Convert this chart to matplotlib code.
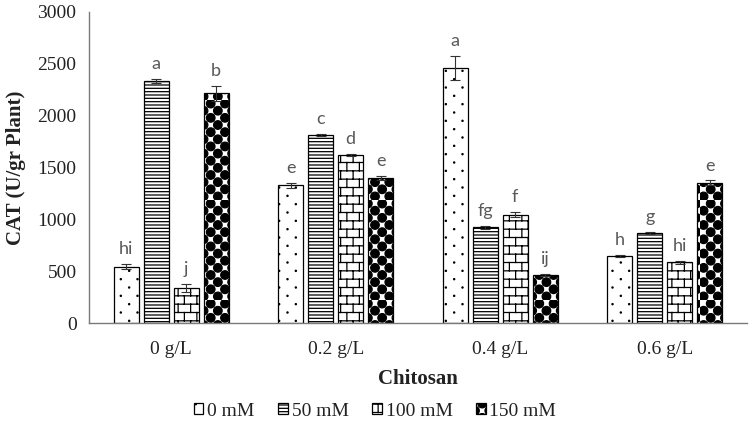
import warnings
warnings.filterwarnings('ignore')
import numpy as np
import matplotlib
matplotlib.use('Agg')
import matplotlib.pyplot as plt
import matplotlib.hatch as mhatch
from matplotlib.path import Path

# ---------------- data ----------------
groups = ['0 g/L', '0.2 g/L', '0.4 g/L', '0.6 g/L']
series = ['0 mM', '50 mM', '100 mM', '150 mM']
cat_0mM = [545, 1330, 2460, 650]
cat_50mM = [2335, 1815, 925, 870]
cat_100mM = [340, 1625, 1045, 585]
cat_150mM = [2215, 1400, 465, 1355]
err_0mM = [25, 25, 120, 10]
err_50mM = [20, 8, 15, 10]
err_100mM = [40, 10, 25, 15]
err_150mM = [75, 20, 10, 20]
letters_0mM = ['hi', 'e', 'a', 'h']
letters_50mM = ['a', 'c', 'fg', 'g']
letters_100mM = ['j', 'd', 'f', 'hi']
letters_150mM = ['b', 'e', 'ij', 'e']
yticks = [0, 500, 1000, 1500, 2000, 2500, 3000]
xlabel = 'Chitosan'
ylabel = 'CAT (U/gr Plant)'


# ---------------- custom hatch patterns ----------------
class DotHatch(mhatch.HatchPatternBase):
    rows, cols = 12, 6

    def __init__(self, hatch, density):
        self.on = 'd' in hatch
        self.circ = Path.unit_circle()
        self.num_vertices = self.rows * self.cols * len(self.circ.vertices) if self.on else 0

    def set_vertices_and_codes(self, vertices, codes):
        v, c = self.circ.vertices, self.circ.codes
        n = len(v)
        k = 0
        for i in range(self.rows):
            y = (i + 0.5) / self.rows
            off = 0.5 / self.cols if i % 2 else 0.0
            for j in range(self.cols):
                x = (j + 0.25) / self.cols + off
                vertices[k:k + n] = v * 0.006 + (x, y)
                codes[k:k + n] = c
                k += n


class BallHatch(mhatch.HatchPatternBase):
    n = 14

    def __init__(self, hatch, density):
        self.on = 'k' in hatch
        self.circ = Path.unit_circle()
        cnt = (self.n * self.n) // 2
        self.num_vertices = cnt * len(self.circ.vertices) if self.on else 0

    def set_vertices_and_codes(self, vertices, codes):
        v, c = self.circ.vertices, self.circ.codes
        m = len(v)
        k = 0
        r = 0.6 / self.n
        for i in range(self.n):
            for j in range(self.n):
                if (i + j) % 2:
                    continue
                x = (j + 0.5) / self.n
                y = (i + 0.5) / self.n
                vertices[k:k + m] = v * r + (x, y)
                codes[k:k + m] = c
                k += m


class BrickHatch(mhatch.HatchPatternBase):
    rows, cols = 12, 8

    def __init__(self, hatch, density):
        self.on = 'b' in hatch
        nseg = self.rows + self.rows * self.cols + self.cols
        self.num_vertices = 2 * nseg if self.on else 0

    def set_vertices_and_codes(self, vertices, codes):
        R, C = self.rows, self.cols
        segs = []
        for i in range(R):
            y = (i + 0.5) / R
            segs.append(((0.0, y), (1.0, y)))
        for i in range(R):
            y0 = (i + 0.5) / R
            y1 = min((i + 1.5) / R, 1.0)
            for j in range(C):
                x = (j + 0.25 + 0.5 * (i % 2)) / C
                segs.append(((x, y0), (x, y1)))
        for j in range(C):
            x = (j + 0.25 + 0.5 * ((R - 1) % 2)) / C
            segs.append(((x, 0.0), (x, 0.5 / R)))
        for k, (a, b) in enumerate(segs):
            vertices[2 * k] = a
            vertices[2 * k + 1] = b
            codes[2 * k] = Path.MOVETO
            codes[2 * k + 1] = Path.LINETO


mhatch._hatch_types.extend([DotHatch, BallHatch, BrickHatch])

plt.rcParams['hatch.linewidth'] = 0.9
plt.rcParams['hatch.color'] = 'black'

# ---------------- figure ----------------
fig = plt.figure(figsize=(7.5, 4.24), dpi=100)
ax = fig.add_axes([0.1187, 0.2382, 0.8773, 0.7335])

values = [cat_0mM, cat_50mM, cat_100mM, cat_150mM]
errors = [err_0mM, err_50mM, err_100mM, err_150mM]
letters = [letters_0mM, letters_50mM, letters_100mM, letters_150mM]
hatches = ['d', '-----', 'b', 'k']

x = np.arange(len(groups))
pitch = 0.182
width = 0.152
handles = []
for s in range(len(series)):
    xs = x + (s - 1.5) * pitch
    bars = ax.bar(xs, values[s], width=width, color='white', edgecolor='black',
                  linewidth=0.9, hatch=hatches[s], label=series[s], zorder=2)
    handles.append(bars)
    ax.errorbar(xs, values[s], yerr=errors[s], fmt='none', ecolor='#333333',
                elinewidth=0.8, capsize=3.5, capthick=0.8, zorder=3)
    for xi, v, e, t in zip(xs, values[s], errors[s], letters[s]):
        ax.annotate(t, (xi, v + e), xytext=(0, 5), textcoords='offset points',
                    ha='center', va='bottom', color='#595959', fontsize=13,
                    family='Lato')

ax.set_xlim(-0.5, 3.5)
ax.set_ylim(0, 3000)
ax.set_yticks(yticks)
ax.set_xticks(x)
ax.set_xticklabels(groups)
for sp in ['top', 'right']:
    ax.spines[sp].set_visible(False)
ax.spines['left'].set_color('#7a7a7a')
ax.spines['bottom'].set_color('#7a7a7a')
ax.spines['left'].set_linewidth(1.0)
ax.spines['bottom'].set_linewidth(1.0)
ax.tick_params(axis='both', length=0, labelsize=14, labelcolor='#222222')
ax.tick_params(axis='y', pad=9)
ax.tick_params(axis='x', pad=13)
for lab in ax.get_xticklabels() + ax.get_yticklabels():
    lab.set_family('Liberation Serif')

ax.set_xlabel(xlabel, family='Liberation Serif', fontweight='bold', fontsize=15,
              labelpad=8, color='#222222')
ax.set_ylabel(ylabel, family='Liberation Serif', fontweight='bold', fontsize=15,
              labelpad=8, color='#222222')

fig.legend(handles=handles, labels=series, loc='center',
           bbox_to_anchor=(0.5, 1 - 411 / 424), ncol=4, frameon=False,
           prop={'family': 'Liberation Serif', 'size': 14},
           handlelength=0.5, handleheight=0.5, handletextpad=0.2,
           columnspacing=1.2, labelcolor='#222222')

fig.savefig('out.png', dpi=100)
